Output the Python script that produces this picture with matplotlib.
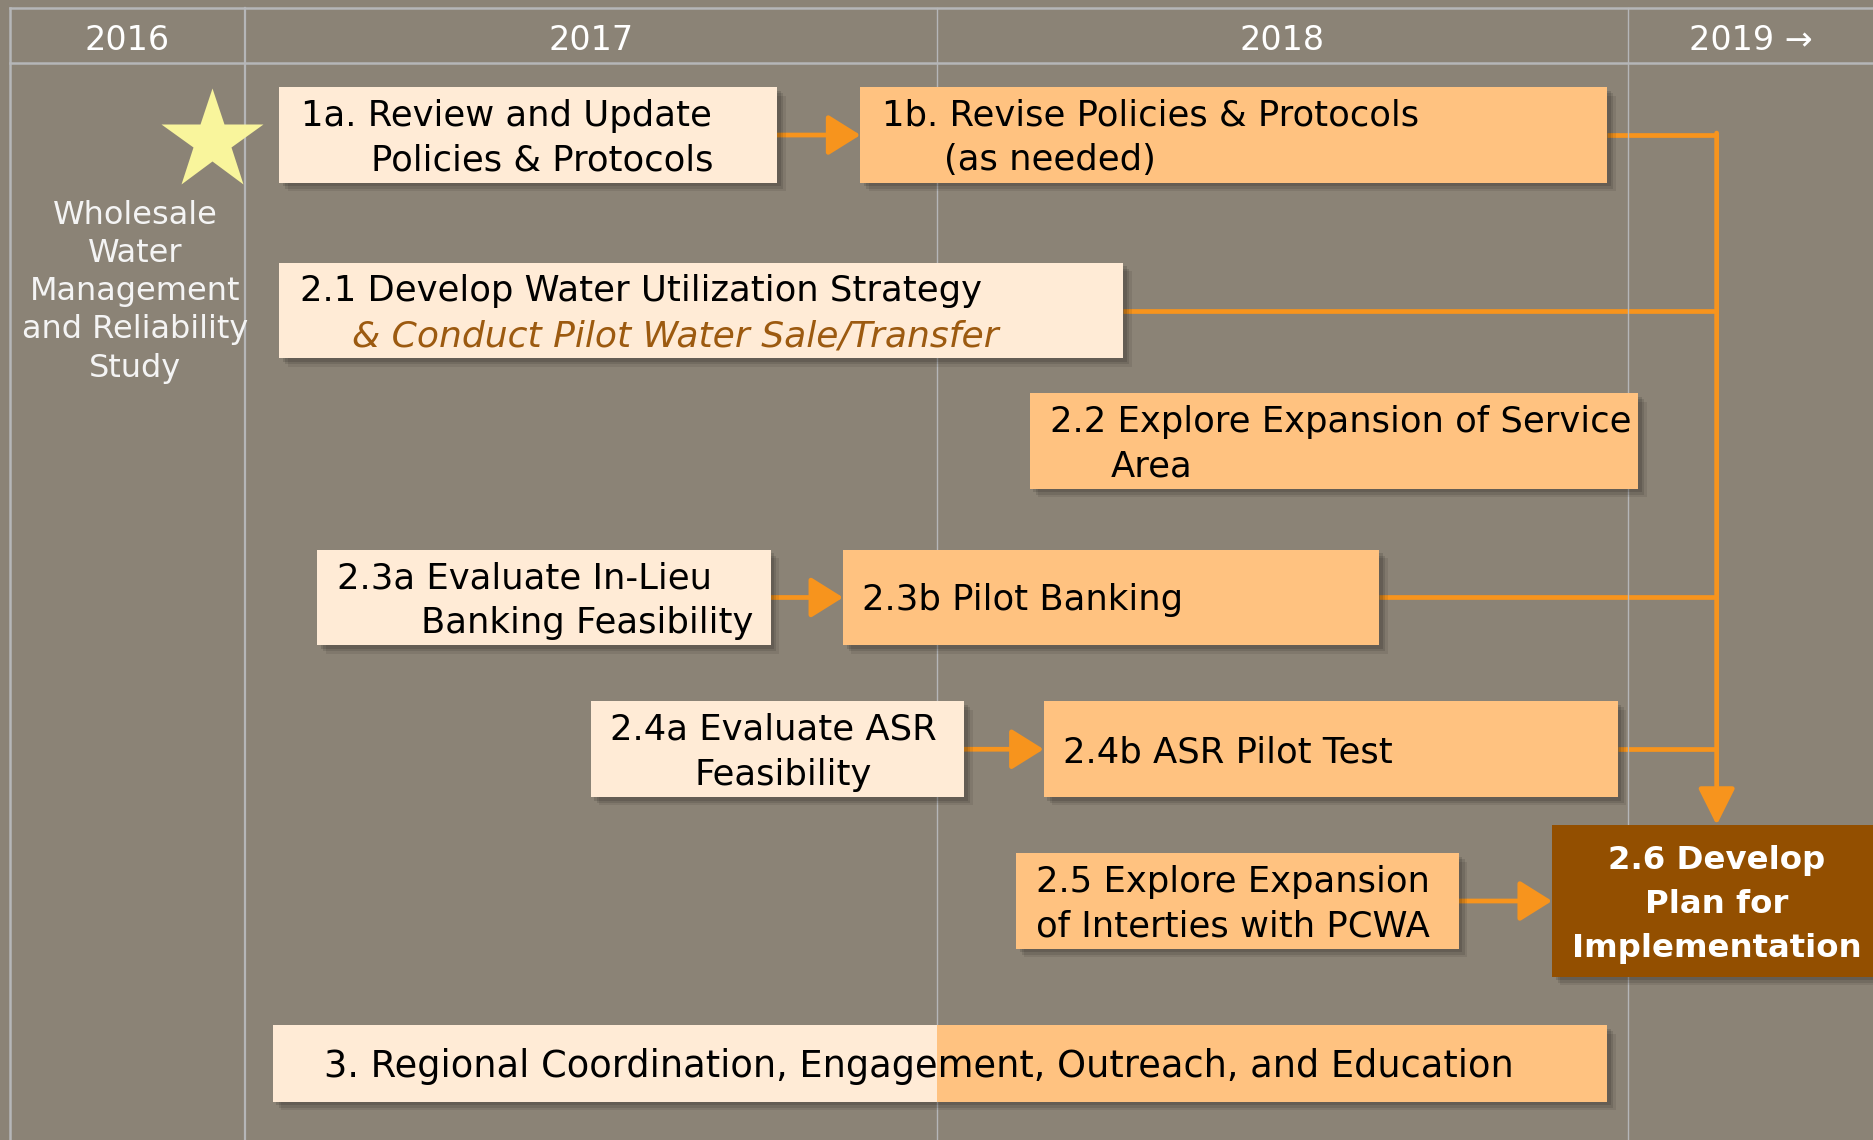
import matplotlib.pyplot as plt
from matplotlib.patches import Rectangle

## Timeline data

year_labels = ['2016', '2017', '2018', '2019 →']
year_edges = [2016.66, 2017.0, 2018.0, 2019.0]

study_lines = ['Wholesale', 'Water', 'Management', 'and Reliability', 'Study']
study_year = 2016.953

task_ids = ['1a', '1b', '2.1', '2.2', '2.3a', '2.3b', '2.4a', '2.4b', '2.5', '2.6', '3']
task_start = [2017.05, 2017.89, 2017.05, 2018.135, 2017.105, 2017.865, 2017.50, 2018.155, 2018.115, 2018.89, 2017.04]
task_end = [2017.77, 2018.97, 2018.27, 2019.015, 2017.76, 2018.64, 2018.04, 2018.985, 2018.755, 2019.40, 2018.97]
task_row = [0, 0, 1, 2, 3, 3, 4, 4, 5, 5, 6]
task_kind = ['review', 'pilot', 'review', 'pilot', 'review', 'pilot', 'review', 'pilot', 'pilot', 'plan', 'ongoing']
task_text = [
    ['1a. Review and Update', 'Policies & Protocols'],
    ['1b. Revise Policies & Protocols', '(as needed)'],
    ['2.1 Develop Water Utilization Strategy', '& Conduct Pilot Water Sale/Transfer'],
    ['2.2 Explore Expansion of Service', 'Area'],
    ['2.3a Evaluate In-Lieu', 'Banking Feasibility'],
    ['2.3b Pilot Banking'],
    ['2.4a Evaluate ASR', 'Feasibility'],
    ['2.4b ASR Pilot Test'],
    ['2.5 Explore Expansion', 'of Interties with PCWA'],
    ['2.6 Develop', 'Plan for', 'Implementation'],
    ['3. Regional Coordination, Engagement, Outreach, and Education'],
]
handoffs = [('1a', '1b'), ('2.3a', '2.3b'), ('2.4a', '2.4b'), ('2.5', '2.6')]
feeds_plan = ['1b', '2.1', '2.3b', '2.4b']
bus_year = 2019.128

## Layout (vertical units are pixels of a 954 px tall canvas)

PX = 1 / 579.0
row_y = [113, 260, 369, 500, 627, 754, 890]
row_h = [80, 80, 80, 80, 80, 80, 64]
indent = {'1a': [18, 77], '1b': [18, 70], '2.1': [17, 61], '2.2': [17, 68],
          '2.3a': [16, 87], '2.3b': [16], '2.4a': [16, 87], '2.4b': [16],
          '2.5': [17, 17], '3': [43]}
line_gap = 37.5

bg = '#8B8376'
grid = '#B5B6B8'
light = '#FFEBD6'
orange = '#FFC280'
dark = '#934F00'
line_col = '#F7941D'
fills = {'review': light, 'pilot': orange, 'plan': dark}

plt.rcParams['font.family'] = ['DejaVu Sans']
fig = plt.figure(figsize=(18.73, 11.40), dpi=100, facecolor=bg)
ax = fig.add_axes([0, 0, 1, 1])
ax.set_facecolor(bg)
x_left = 2017 - 205 * PX
x_right = 2019 + 205 * PX
ax.set_xlim(x_left, x_right)
ax.set_ylim(954, 0)
ax.axis('off')

## Grid frame
ax.plot([year_edges[0], x_right], [7, 7], color=grid, lw=1.8)
ax.plot([year_edges[0], x_right], [53, 53], color=grid, lw=1.8)
ax.plot([year_edges[0], year_edges[0]], [7, 954], color=grid, lw=1.8)
for i, xv in enumerate(year_edges[1:]):
    ax.plot([xv, xv], [7, 954], color=grid, lw=1.6 if i == 0 else 1.0)

edges = year_edges + [x_right]
for i, lab in enumerate(year_labels):
    ax.text((edges[i] + edges[i + 1]) / 2, 34, lab, color='white', fontsize=24,
            ha='center', va='center')

## Study star and label
ax.plot(study_year, 118, marker='*', ms=77, color='#F9F59C', mec='none')
for i, s in enumerate(study_lines):
    ax.text(2016.841, 180 + 32 * i, s, color='#F4F4F4', fontsize=23,
            ha='center', va='center')


def shadow(x0, x1, yc, h):
    for k, a in [(7, 0.08), (5, 0.10), (3, 0.12)]:
        ax.add_patch(Rectangle((x0 + k * PX, yc - h / 2 + k), x1 - x0, h,
                               color='black', alpha=a, lw=0, zorder=2))


## Connectors first, boxes on top
idx = {t: i for i, t in enumerate(task_ids)}
plan = idx['2.6']
plan_h = 127
plan_top = row_y[task_row[plan]] - plan_h / 2

for t in feeds_plan:
    i = idx[t]
    y = row_y[task_row[i]]
    ax.plot([task_end[i], bus_year], [y, y], color=line_col, lw=3.4,
            solid_capstyle='butt', zorder=1)
top_y = row_y[task_row[idx[feeds_plan[0]]]]
ax.annotate('', xy=(bus_year, plan_top), xytext=(bus_year, top_y - 1.7),
            arrowprops=dict(arrowstyle='-|>,head_length=0.9,head_width=0.45',
                            color=line_col, lw=3.4, shrinkA=0, shrinkB=0,
                            mutation_scale=25), zorder=1)

for a, b in handoffs:
    i, j = idx[a], idx[b]
    y = row_y[task_row[i]]
    ax.annotate('', xy=(task_start[j], y), xytext=(task_end[i], y),
                arrowprops=dict(arrowstyle='-|>,head_length=0.8,head_width=0.5',
                                color=line_col, lw=3.4, shrinkA=0, shrinkB=0,
                                mutation_scale=25), zorder=1)

## Task boxes
for i, t in enumerate(task_ids):
    x0, x1 = task_start[i], task_end[i]
    yc = row_y[task_row[i]]
    h = plan_h if t == '2.6' else row_h[task_row[i]]
    shadow(x0, x1, yc, h)
    if task_kind[i] == 'ongoing':
        ax.add_patch(Rectangle((x0, yc - h / 2), 2018.0 - x0, h, color=light, lw=0, zorder=3))
        ax.add_patch(Rectangle((2018.0, yc - h / 2), x1 - 2018.0, h, color=orange, lw=0, zorder=3))
    else:
        ax.add_patch(Rectangle((x0, yc - h / 2), x1 - x0, h,
                               color=fills[task_kind[i]], lw=0, zorder=3))

    lines = task_text[i]
    n = len(lines)
    if t == '2.6':
        for k, s in enumerate(lines):
            ax.text(bus_year, yc + 3 + (k - 1) * 37, s, color='white', fontsize=23.3,
                    fontweight='bold', ha='center', va='center', zorder=4)
        continue
    for k, s in enumerate(lines):
        y = yc + 2.5 + (k - (n - 1) / 2) * line_gap
        style = 'normal'
        col = 'black'
        size = 25.5
        if t == '2.1' and k == 1:
            style = 'italic'
            col = '#9C5A10'
            size = 26
        if t == '3':
            size = 26.5
        ax.text(x0 + indent[t][k] * PX, y, s, color=col, fontsize=size,
                fontstyle=style, ha='left', va='center', zorder=4)

fig.savefig('out.png', dpi=100, facecolor=bg)
